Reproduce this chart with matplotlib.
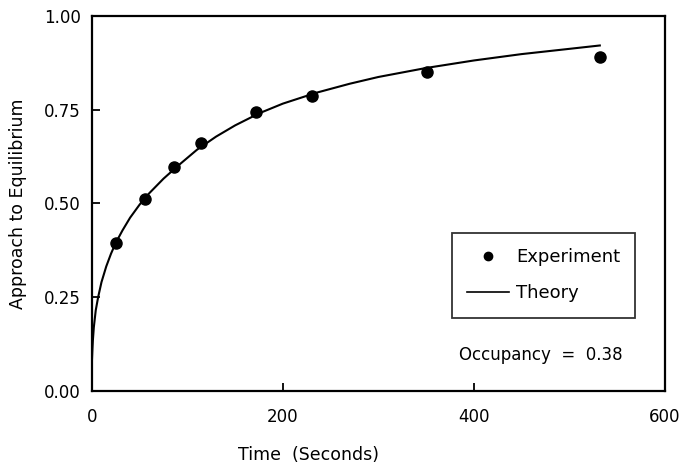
import matplotlib
matplotlib.use("Agg")
import matplotlib.pyplot as plt
from matplotlib.lines import Line2D

# Experimental points (time in s, approach to equilibrium)
exp_time = [25, 56, 86, 114, 172, 231, 351, 532]
exp_value = [0.394, 0.513, 0.598, 0.660, 0.743, 0.785, 0.851, 0.891]

# Theory curve
theory_time = [0, 0.5, 1, 2, 4, 6.5, 10, 15, 20, 25, 32, 40, 50, 60, 75, 90,
               110, 130, 150, 175, 200, 235, 270, 300, 350, 400, 450, 500, 532]
theory_value = [0.08, 0.11, 0.135, 0.17, 0.215, 0.25, 0.29, 0.332, 0.366, 0.395,
                0.428, 0.462, 0.497, 0.527, 0.566, 0.60, 0.643, 0.678, 0.708,
                0.74, 0.766, 0.795, 0.819, 0.837, 0.861, 0.881, 0.898, 0.912,
                0.921]

x_ticks = [0, 200, 400, 600]
y_ticks = [0.00, 0.25, 0.50, 0.75, 1.00]
y_tick_labels = ["0.00", "0.25", "0.50", "0.75", "1.00"]

FS = 12

fig = plt.figure(figsize=(6.86, 4.66), dpi=100)
ax = fig.add_axes([0.134, 0.161, 0.835, 0.805])

ax.plot(theory_time, theory_value, color="black", linewidth=1.5, zorder=2)
ax.plot(exp_time, exp_value, linestyle="none", marker="o", markersize=8,
        color="black", zorder=3)

ax.set_xlim(0, 600)
ax.set_ylim(0, 1.0)
ax.set_xticks(x_ticks)
ax.set_yticks(y_ticks)
ax.set_yticklabels(y_tick_labels)
ax.tick_params(direction="in", length=6, width=1.3, labelsize=FS)
ax.tick_params(axis="x", pad=12)
ax.tick_params(axis="y", pad=8)
for spine in ax.spines.values():
    spine.set_linewidth(1.6)

ax.set_ylabel("Approach to Equilibrium", fontsize=FS + 0.5, labelpad=12)
fig.text(308 / 686, 1 - 455 / 466, "Time  (Seconds)", fontsize=FS + 0.5,
         ha="center", va="center")

handles = [
    Line2D([], [], linestyle="none", marker="o", markersize=6, color="black"),
    Line2D([], [], color="black", linewidth=1.2),
]
leg = ax.legend(handles, ["Experiment", "Theory"], loc="upper left",
                bbox_to_anchor=((452 - 92) / 573, (391 - 233) / 375),
                frameon=True, fancybox=False, edgecolor="black",
                fontsize=FS + 1, handlelength=2.3, handletextpad=0.4,
                borderpad=0.85, labelspacing=1.0, borderaxespad=0)
leg.get_frame().set_linewidth(1.3)

ax.text((541 - 92) / 573, (391 - 355) / 375, "Occupancy  =  0.38",
        transform=ax.transAxes, fontsize=FS, ha="center", va="center")

fig.savefig("out.png", dpi=100)
